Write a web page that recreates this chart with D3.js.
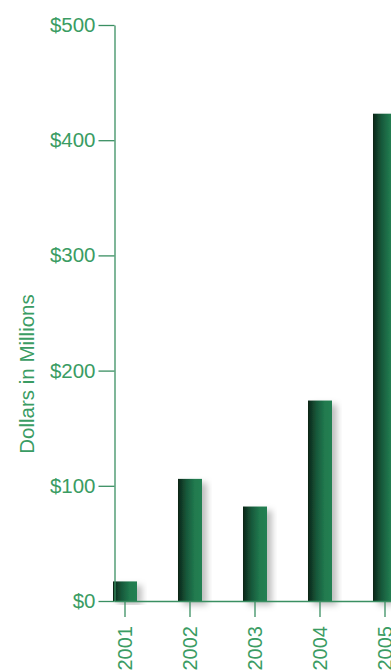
<!DOCTYPE html>
<html>
<head>
<meta charset="utf-8">
<script src="https://cdn.jsdelivr.net/npm/d3@7/dist/d3.min.js"></script>
<style>
  html, body { margin: 0; padding: 0; background: #fff; }
  svg { display: block; }
  text { font-family: "Liberation Sans", Arial, sans-serif; fill: #3a9c63; }
</style>
</head>
<body>
<svg id="chart" width="391" height="671"></svg>
<script>
// Annual totals, in millions of dollars
const years = ["2001", "2002", "2003", "2004", "2005"];
const amounts = [17, 106, 82, 174, 423];
const yTicks = [0, 100, 200, 300, 400, 500];
const yTitle = "Dollars in Millions";

const svg = d3.select("#chart");
const axisColor = "#3a8f62";
const textColor = "#3a9c63";
const fontFamily = "'Liberation Sans', Arial, sans-serif";

const x = d3.scaleBand()
  .domain(years)
  .range([92.5, 417.5])
  .paddingInner(0.6308)
  .paddingOuter(0.3154);

const y = d3.scaleLinear().domain([0, 500]).range([601, 25]);

const defs = svg.append("defs");
const grad = defs.append("linearGradient").attr("id", "barFill")
  .attr("x1", 0).attr("x2", 1).attr("y1", 0).attr("y2", 0);
grad.append("stop").attr("offset", "0%").attr("stop-color", "#0b2416");
grad.append("stop").attr("offset", "35%").attr("stop-color", "#17583a");
grad.append("stop").attr("offset", "70%").attr("stop-color", "#217a4f");
grad.append("stop").attr("offset", "100%").attr("stop-color", "#248052");

const shadow = defs.append("filter").attr("id", "barShadow")
  .attr("x", "-20%").attr("y", "-20%").attr("width", "160%").attr("height", "140%");
shadow.append("feDropShadow")
  .attr("dx", 5).attr("dy", 4).attr("stdDeviation", 3)
  .attr("flood-color", "#000").attr("flood-opacity", 0.25);

const data = years.map((yr, i) => ({ year: yr, value: amounts[i] }));

// bars
svg.append("g").selectAll("rect")
  .data(data)
  .join("rect")
  .attr("x", d => x(d.year))
  .attr("y", d => y(d.value))
  .attr("width", x.bandwidth())
  .attr("height", d => y(0) - y(d.value))
  .attr("fill", "url(#barFill)")
  .attr("filter", "url(#barShadow)");

// y axis
const yAxis = svg.append("g")
  .attr("transform", "translate(114.5,0)")
  .call(d3.axisLeft(y).tickValues(yTicks).tickFormat(d => "$" + d)
    .tickSize(16).tickSizeOuter(0).tickPadding(3));
yAxis.select(".domain").attr("stroke", axisColor).attr("stroke-width", 1.3);
yAxis.selectAll(".tick line").attr("stroke", axisColor).attr("stroke-width", 1.3);
yAxis.selectAll(".tick text")
  .attr("font-size", 20.5).attr("fill", textColor)
  .attr("font-family", fontFamily);

// x axis
const xAxis = svg.append("g")
  .attr("transform", "translate(0,601)")
  .call(d3.axisBottom(x).tickSize(16).tickSizeOuter(0).tickPadding(0));
xAxis.select(".domain").attr("stroke", axisColor).attr("stroke-width", 1.3)
  .attr("d", "M114.5,0.5H391");
xAxis.selectAll(".tick line").attr("stroke", axisColor).attr("stroke-width", 1.3);
xAxis.selectAll(".tick text")
  .attr("font-size", 20).attr("fill", textColor)
  .attr("font-family", fontFamily)
  .attr("text-anchor", "end")
  .attr("dy", "0.35em")
  .attr("transform", "translate(0,25) rotate(-90)")
  .attr("y", 0).attr("x", 0);

// y axis title
svg.append("text")
  .attr("transform", "translate(34,374) rotate(-90)")
  .attr("text-anchor", "middle")
  .attr("font-size", 20.5)
  .text(yTitle);
</script>
</body>
</html>
